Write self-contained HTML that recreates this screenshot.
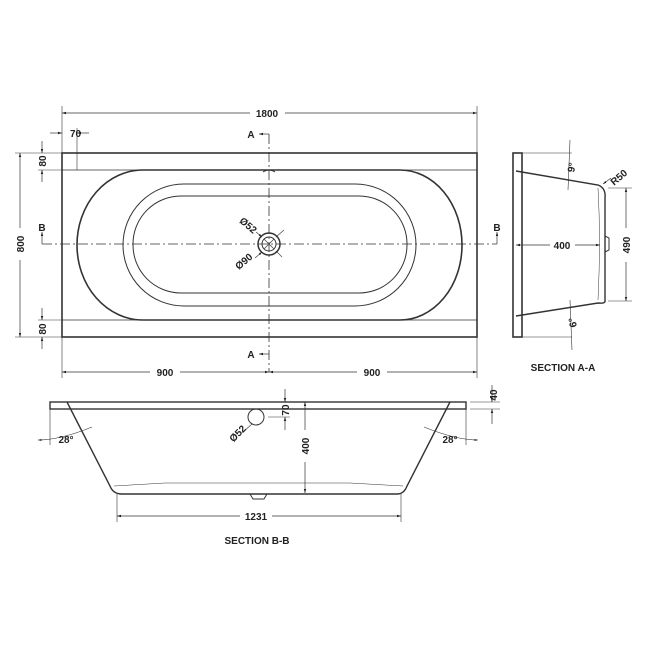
<!DOCTYPE html>
<html><head><meta charset="utf-8"><style>
html,body{margin:0;padding:0;background:#fff}
svg{display:block}
text{font-family:"Liberation Sans",sans-serif;font-weight:bold;font-size:10px;fill:#222}
</style></head><body>
<svg width="650" height="650" viewBox="0 0 650 650" xmlns="http://www.w3.org/2000/svg">
<defs>
<marker id="a" viewBox="0 0 10 10" refX="10" refY="5" markerWidth="6" markerHeight="6" orient="auto-start-reverse"><path d="M0,2 L10,5 L0,8z" fill="#222"/></marker>
</defs>
<g stroke="#333" fill="none" stroke-width="1">
<!-- plan -->
<rect x="62" y="153" width="415" height="184" stroke-width="1.6"/>
<line x1="62" y1="170" x2="477" y2="170" stroke-width="0.8"/>
<line x1="62" y1="320" x2="477" y2="320" stroke-width="0.8"/>
<path d="M143,170 H400 A62,75 0 0 1 400,320 H143 A66,75 0 0 1 143,170Z" stroke-width="1.6"/>
<rect x="123" y="184" width="293" height="122" rx="61" ry="61"/>
<rect x="133" y="196" width="274" height="97" rx="48" ry="48"/>
<circle cx="269" cy="244" r="11" stroke-width="1.5"/>
<circle cx="269" cy="244" r="7"/>
<line x1="264" y1="239" x2="274" y2="249" stroke-width="0.6"/><line x1="274" y1="239" x2="264" y2="249" stroke-width="0.6"/>
<path d="M263,172 Q269,168 275,172" stroke-width="1"/>
<!-- center lines -->
<line x1="42" y1="244" x2="497" y2="244" stroke-dasharray="10,3,2,3" stroke-width="0.8"/>
<line x1="269" y1="134" x2="269" y2="372" stroke-dasharray="10,3,2,3" stroke-width="0.8"/>
<!-- dims -->
<line x1="62" y1="106" x2="62" y2="153" stroke-width="0.6"/><line x1="477" y1="106" x2="477" y2="153" stroke-width="0.6"/>
<line x1="62" y1="113" x2="250" y2="113" marker-start="url(#a)" stroke-width="0.7"/><line x1="285" y1="113" x2="477" y2="113" marker-end="url(#a)" stroke-width="0.7"/>
<line x1="77" y1="128" x2="77" y2="170" stroke-width="0.6"/>
<line x1="50" y1="133" x2="62" y2="133" marker-end="url(#a)" stroke-width="0.7"/><line x1="89" y1="133" x2="77" y2="133" marker-end="url(#a)" stroke-width="0.7"/>
<line x1="15" y1="153" x2="62" y2="153" stroke-width="0.6"/><line x1="15" y1="337" x2="62" y2="337" stroke-width="0.6"/>
<line x1="20" y1="153" x2="20" y2="228" marker-start="url(#a)" stroke-width="0.7"/><line x1="20" y1="260" x2="20" y2="337" marker-end="url(#a)" stroke-width="0.7"/>
<line x1="38" y1="170" x2="62" y2="170" stroke-width="0.6"/><line x1="38" y1="320" x2="62" y2="320" stroke-width="0.6"/>
<line x1="42" y1="141" x2="42" y2="153" marker-end="url(#a)" stroke-width="0.7"/><line x1="42" y1="182" x2="42" y2="170" marker-end="url(#a)" stroke-width="0.7"/>
<line x1="42" y1="308" x2="42" y2="320" marker-end="url(#a)" stroke-width="0.7"/><line x1="42" y1="349" x2="42" y2="337" marker-end="url(#a)" stroke-width="0.7"/>
<line x1="62" y1="337" x2="62" y2="378" stroke-width="0.6"/><line x1="477" y1="337" x2="477" y2="378" stroke-width="0.6"/>
<line x1="62" y1="372" x2="150" y2="372" marker-start="url(#a)" stroke-width="0.7"/><line x1="180" y1="372" x2="269" y2="372" marker-end="url(#a)" stroke-width="0.7"/>
<line x1="269" y1="372" x2="357" y2="372" marker-start="url(#a)" stroke-width="0.7"/><line x1="387" y1="372" x2="477" y2="372" marker-end="url(#a)" stroke-width="0.7"/>
<path d="M42,244 V232" marker-end="url(#a)" stroke-width="0.7"/><path d="M497,244 V232" marker-end="url(#a)" stroke-width="0.7"/>
<path d="M269,134 H259" marker-end="url(#a)" stroke-width="0.7"/><path d="M269,354 H259" marker-end="url(#a)" stroke-width="0.7"/>
<line x1="256" y1="232" x2="262" y2="237" stroke-width="0.6" marker-end="url(#a)"/>
<line x1="276" y1="237" x2="284" y2="230" stroke-width="0.6"/>
<line x1="255" y1="258" x2="262" y2="252" stroke-width="0.6" marker-end="url(#a)"/>
<line x1="276" y1="251" x2="282" y2="257" stroke-width="0.6"/>
<!-- section A-A -->
<rect x="513" y="153" width="9" height="184" stroke-width="1.6"/>
<path d="M516,171 L598,185 Q606,188 605,198 V300 Q606,304 598,303 L516,316" stroke-width="1.4"/>
<path d="M598,188 Q601,240 598,300" stroke-width="0.5"/>
<path d="M605,236 L609,238 V250 L605,252" stroke-width="1"/>
<line x1="522" y1="153" x2="572" y2="153" stroke-width="0.6"/><line x1="522" y1="337" x2="572" y2="337" stroke-width="0.6"/>
<line x1="570" y1="140" x2="568" y2="190" stroke-width="0.6"/>
<line x1="570" y1="300" x2="572" y2="350" stroke-width="0.6"/>
<line x1="516" y1="245" x2="550" y2="245" marker-start="url(#a)" stroke-width="0.7"/><line x1="575" y1="245" x2="600" y2="245" marker-end="url(#a)" stroke-width="0.7"/>
<line x1="608" y1="188" x2="632" y2="188" stroke-width="0.6"/><line x1="608" y1="301" x2="632" y2="301" stroke-width="0.6"/>
<line x1="626" y1="188" x2="626" y2="228" marker-start="url(#a)" stroke-width="0.7"/><line x1="626" y1="262" x2="626" y2="301" marker-end="url(#a)" stroke-width="0.7"/>
<line x1="611" y1="178" x2="603" y2="184" stroke-width="0.6" marker-end="url(#a)"/>
<!-- section B-B -->
<rect x="50" y="402" width="416" height="7" stroke-width="1.4" fill="none"/>
<path d="M67,402 L110,486 Q113,494 122,494 H397 Q404,494 407,486 L450,402" stroke-width="1.4"/>
<path d="M114,486 L165,483 H350 L403,486" stroke-width="0.5"/>
<path d="M250,494 L253,499 H264 L267,494" stroke-width="1"/>
<circle cx="256" cy="417" r="8"/>
<line x1="252" y1="424" x2="243" y2="432" stroke-width="0.6"/>
<line x1="268" y1="417" x2="290" y2="417" stroke-width="0.6"/>
<line x1="285" y1="389" x2="285" y2="402" marker-end="url(#a)" stroke-width="0.7"/><line x1="285" y1="430" x2="285" y2="417" marker-end="url(#a)" stroke-width="0.7"/>
<line x1="305" y1="402" x2="305" y2="430" marker-start="url(#a)" stroke-width="0.7"/><line x1="305" y1="462" x2="305" y2="493" marker-end="url(#a)" stroke-width="0.7"/>
<line x1="117" y1="494" x2="117" y2="522" stroke-width="0.6"/><line x1="401" y1="494" x2="401" y2="522" stroke-width="0.6"/>
<line x1="117" y1="516" x2="240" y2="516" marker-start="url(#a)" stroke-width="0.7"/><line x1="272" y1="516" x2="401" y2="516" marker-end="url(#a)" stroke-width="0.7"/>
<line x1="50" y1="409" x2="50" y2="445" stroke-width="0.6"/><line x1="466" y1="409" x2="466" y2="445" stroke-width="0.6"/>
<path d="M38,440 Q60,440 92,427" stroke-width="0.6" marker-start="url(#a)"/>
<path d="M478,440 Q456,440 424,427" stroke-width="0.6" marker-start="url(#a)"/>
<line x1="470" y1="402" x2="500" y2="402" stroke-width="0.6"/><line x1="470" y1="409" x2="500" y2="409" stroke-width="0.6"/>
<line x1="492" y1="385" x2="492" y2="402" marker-end="url(#a)" stroke-width="0.7"/><line x1="492" y1="424" x2="492" y2="409" marker-end="url(#a)" stroke-width="0.7"/>
</g>
<text x="267" y="117" text-anchor="middle">1800</text>
<text x="70" y="137" >70</text>
<text x="251" y="138" text-anchor="middle">A</text>
<text x="251" y="358" text-anchor="middle">A</text>
<text x="42" y="231" text-anchor="middle">B</text>
<text x="497" y="231" text-anchor="middle">B</text>
<text transform="translate(24,244) rotate(-90)" text-anchor="middle">800</text>
<text transform="translate(46,161) rotate(-90)" text-anchor="middle">80</text>
<text transform="translate(46,329) rotate(-90)" text-anchor="middle">80</text>
<text x="165" y="376" text-anchor="middle">900</text>
<text x="372" y="376" text-anchor="middle">900</text>
<text transform="translate(246,228) rotate(40)" text-anchor="middle">Ø52</text>
<text transform="translate(246,264) rotate(-40)" text-anchor="middle">Ø90</text>
<text x="562" y="249" text-anchor="middle">400</text>
<text transform="translate(630,245) rotate(-90)" text-anchor="middle">490</text>
<text transform="translate(621,180) rotate(-40)" text-anchor="middle">R50</text>
<text transform="translate(575,168) rotate(-80)" text-anchor="middle" font-size="9">9°</text>
<text transform="translate(576,322) rotate(-100)" text-anchor="middle" font-size="9">6°</text>
<text x="563" y="371" text-anchor="middle">SECTION A-A</text>
<text transform="translate(289,410) rotate(-90)" text-anchor="middle">70</text>
<text transform="translate(309,446) rotate(-90)" text-anchor="middle">400</text>
<text transform="translate(497,395) rotate(-90)" text-anchor="middle">40</text>
<text transform="translate(240,436) rotate(-45)" text-anchor="middle">Ø52</text>
<text x="66" y="443" text-anchor="middle">28°</text>
<text x="450" y="443" text-anchor="middle">28°</text>
<text x="256" y="520" text-anchor="middle">1231</text>
<text x="257" y="544" text-anchor="middle">SECTION B-B</text>
</svg>
</body></html>
